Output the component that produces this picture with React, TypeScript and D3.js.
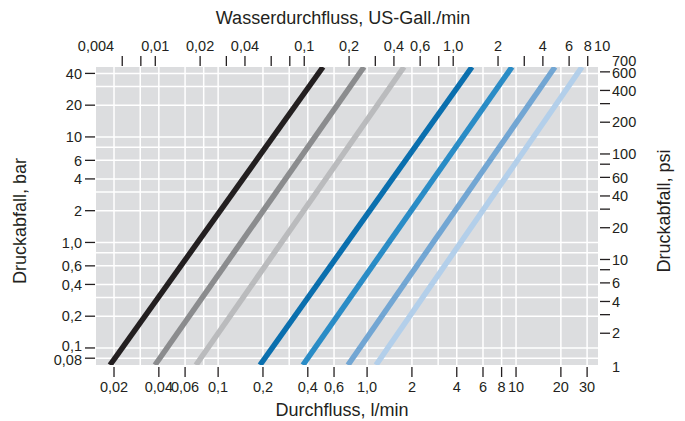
import React from "react";
import * as d3 from "d3";

const W = 685;
const H = 421;
const plot = { left: 96, right: 598, top: 67, bottom: 365 };

const LPM_PER_GPM = 3.78541;
const PSI_PER_BAR = 14.5038;

const flowDomainLmin = [0.01514, 35.5];
const pressureDomainBar = [0.06895, 46];

const bottomTicks = [0.02, 0.04, 0.06, 0.1, 0.2, 0.4, 0.6, 1, 2, 4, 6, 8, 10, 20, 30];
const bottomLabels = ["0,02", "0,04", "0,06", "0,1", "0,2", "0,4", "0,6", "1,0", "2", "4", "6", "8", "10", "20", "30"];

const topTicks = [0.006, 0.008, 0.01, 0.02, 0.03, 0.04, 0.06, 0.08, 0.1, 0.2, 0.3, 0.4, 0.6, 0.8, 1, 2, 3, 4, 6, 8];
const topLabelValues = [0.004, 0.01, 0.02, 0.04, 0.1, 0.2, 0.4, 0.6, 1, 2, 4, 6, 8, 10];
const topLabels = ["0,004", "0,01", "0,02", "0,04", "0,1", "0,2", "0,4", "0,6", "1,0", "2", "4", "6", "8", "10"];

const leftTicks = [40, 20, 10, 6, 4, 2, 1, 0.6, 0.4, 0.2, 0.1, 0.08];
const leftLabels = ["40", "20", "10", "6", "4", "2", "1,0", "0,6", "0,4", "0,2", "0,1", "0,08"];

const rightTicks = [600, 400, 300, 200, 100, 80, 60, 40, 30, 20, 10, 8, 6, 4, 3, 2];
const rightLabelValues = [700, 600, 400, 200, 100, 60, 40, 20, 10, 6, 4, 2, 1];
const rightLabels = ["700", "600", "400", "200", "100", "60", "40", "20", "10", "6", "4", "2", "1"];

const gridFlows = [0.02, 0.03, 0.04, 0.06, 0.08, 0.1, 0.2, 0.3, 0.4, 0.6, 1, 2, 3, 4, 6, 8, 10, 20, 30];
const gridPressures = [40, 30, 20, 10, 8, 6, 4, 3, 2, 1, 0.8, 0.6, 0.4, 0.3, 0.2, 0.1, 0.08];

// flow (l/min) of each characteristic line at the lowest and highest pressure of the chart
const lineFlowAtMinPressure = [0.0188, 0.0377, 0.071, 0.191, 0.371, 0.744, 1.148];
const lineFlowAtMaxPressure = [0.506, 0.953, 1.769, 5.06, 9.39, 18.25, 27.7];
const lineColors = ["#231f20", "#8b8c8e", "#babbbd", "#0a6fae", "#2a8cc6", "#72a6d3", "#b3cfea"];

const FONT = "'Liberation Sans', Arial, Helvetica, sans-serif";
const TEXT = "#231f20";

export default function App() {
  const x = d3.scaleLog().domain(flowDomainLmin).range([plot.left, plot.right]);
  const y = d3.scaleLog().domain(pressureDomainBar).range([plot.bottom, plot.top]);
  const line = d3
    .line<[number, number]>()
    .x((d) => x(d[0]))
    .y((d) => y(d[1]));

  return (
    <svg width={W} height={H} style={{ position: "absolute", left: 0, top: 0 }} fontFamily={FONT}>
      <defs>
        <clipPath id="plotclip">
          <rect x={plot.left} y={plot.top} width={plot.right - plot.left} height={plot.bottom - plot.top} />
        </clipPath>
      </defs>
      <rect x={plot.left} y={plot.top} width={plot.right - plot.left} height={plot.bottom - plot.top} fill="#dcdddf" />
      <g stroke="#ffffff" strokeWidth={1.5}>
        {gridFlows.map((v, i) => (
          <line key={"gx" + i} x1={x(v)} x2={x(v)} y1={plot.top} y2={plot.bottom} />
        ))}
        {gridPressures.map((v, i) => (
          <line key={"gy" + i} x1={plot.left} x2={plot.right} y1={y(v)} y2={y(v)} />
        ))}
      </g>
      <g clipPath="url(#plotclip)" fill="none">
        {lineColors.map((c, i) => (
          <path
            key={"l" + i}
            d={line([
              [lineFlowAtMinPressure[i], pressureDomainBar[0]],
              [lineFlowAtMaxPressure[i], pressureDomainBar[1]],
            ]) || ""}
            stroke={c}
            strokeWidth={5.5}
          />
        ))}
      </g>

      {/* bottom axis */}
      <g stroke={TEXT} strokeWidth={1.3}>
        {bottomTicks.map((v, i) => (
          <line key={"bt" + i} x1={x(v)} x2={x(v)} y1={367} y2={377} />
        ))}
      </g>
      <g fill={TEXT} fontSize={14.5} textAnchor="middle">
        {bottomTicks.map((v, i) => (
          <text key={"bl" + i} x={x(v)} y={392}>
            {bottomLabels[i]}
          </text>
        ))}
      </g>
      <text x={342} y={416} fontSize={18} fill={TEXT} textAnchor="middle">
        Durchfluss, l/min
      </text>

      {/* top axis */}
      <g stroke={TEXT} strokeWidth={1.3}>
        {topTicks.map((v, i) => (
          <line key={"tt" + i} x1={x(v * LPM_PER_GPM)} x2={x(v * LPM_PER_GPM)} y1={56} y2={66} />
        ))}
      </g>
      <g fill={TEXT} fontSize={14.5} textAnchor="middle">
        {topLabelValues.map((v, i) => (
          <text key={"tl" + i} x={x(v * LPM_PER_GPM)} y={51}>
            {topLabels[i]}
          </text>
        ))}
      </g>
      <text x={343} y={24} fontSize={18} fill={TEXT} textAnchor="middle">
        Wasserdurchfluss, US-Gall./min
      </text>

      {/* left axis */}
      <g stroke={TEXT} strokeWidth={1.3}>
        {leftTicks.map((v, i) => (
          <line key={"lt" + i} x1={85} x2={95} y1={y(v)} y2={y(v)} />
        ))}
      </g>
      <g fill={TEXT} fontSize={14.5} textAnchor="end">
        {leftTicks.map((v, i) => (
          <text key={"ll" + i} x={82} y={y(v)} dy={v === 0.1 ? "0.2em" : v === 0.08 ? "0.45em" : "0.36em"}>
            {leftLabels[i]}
          </text>
        ))}
      </g>
      <text
        transform={`translate(26, 221) rotate(-90)`}
        fontSize={18}
        fill={TEXT}
        textAnchor="middle"
      >
        Druckabfall, bar
      </text>

      {/* right axis */}
      <g stroke={TEXT} strokeWidth={1.3}>
        {rightTicks.map((v, i) => (
          <line key={"rt" + i} x1={600} x2={610} y1={y(v / PSI_PER_BAR)} y2={y(v / PSI_PER_BAR)} />
        ))}
      </g>
      <g fill={TEXT} fontSize={14.5} textAnchor="start">
        {rightLabelValues.map((v, i) => (
          <text key={"rl" + i} x={612} y={y(v / PSI_PER_BAR)} dy={v === 700 ? "0.05em" : v === 1 ? "0.45em" : v === 600 ? "0.45em" : "0.36em"}>
            {rightLabels[i]}
          </text>
        ))}
      </g>
      <text
        transform={`translate(670, 211) rotate(-90)`}
        fontSize={18}
        fill={TEXT}
        textAnchor="middle"
      >
        Druckabfall, psi
      </text>
    </svg>
  );
}
